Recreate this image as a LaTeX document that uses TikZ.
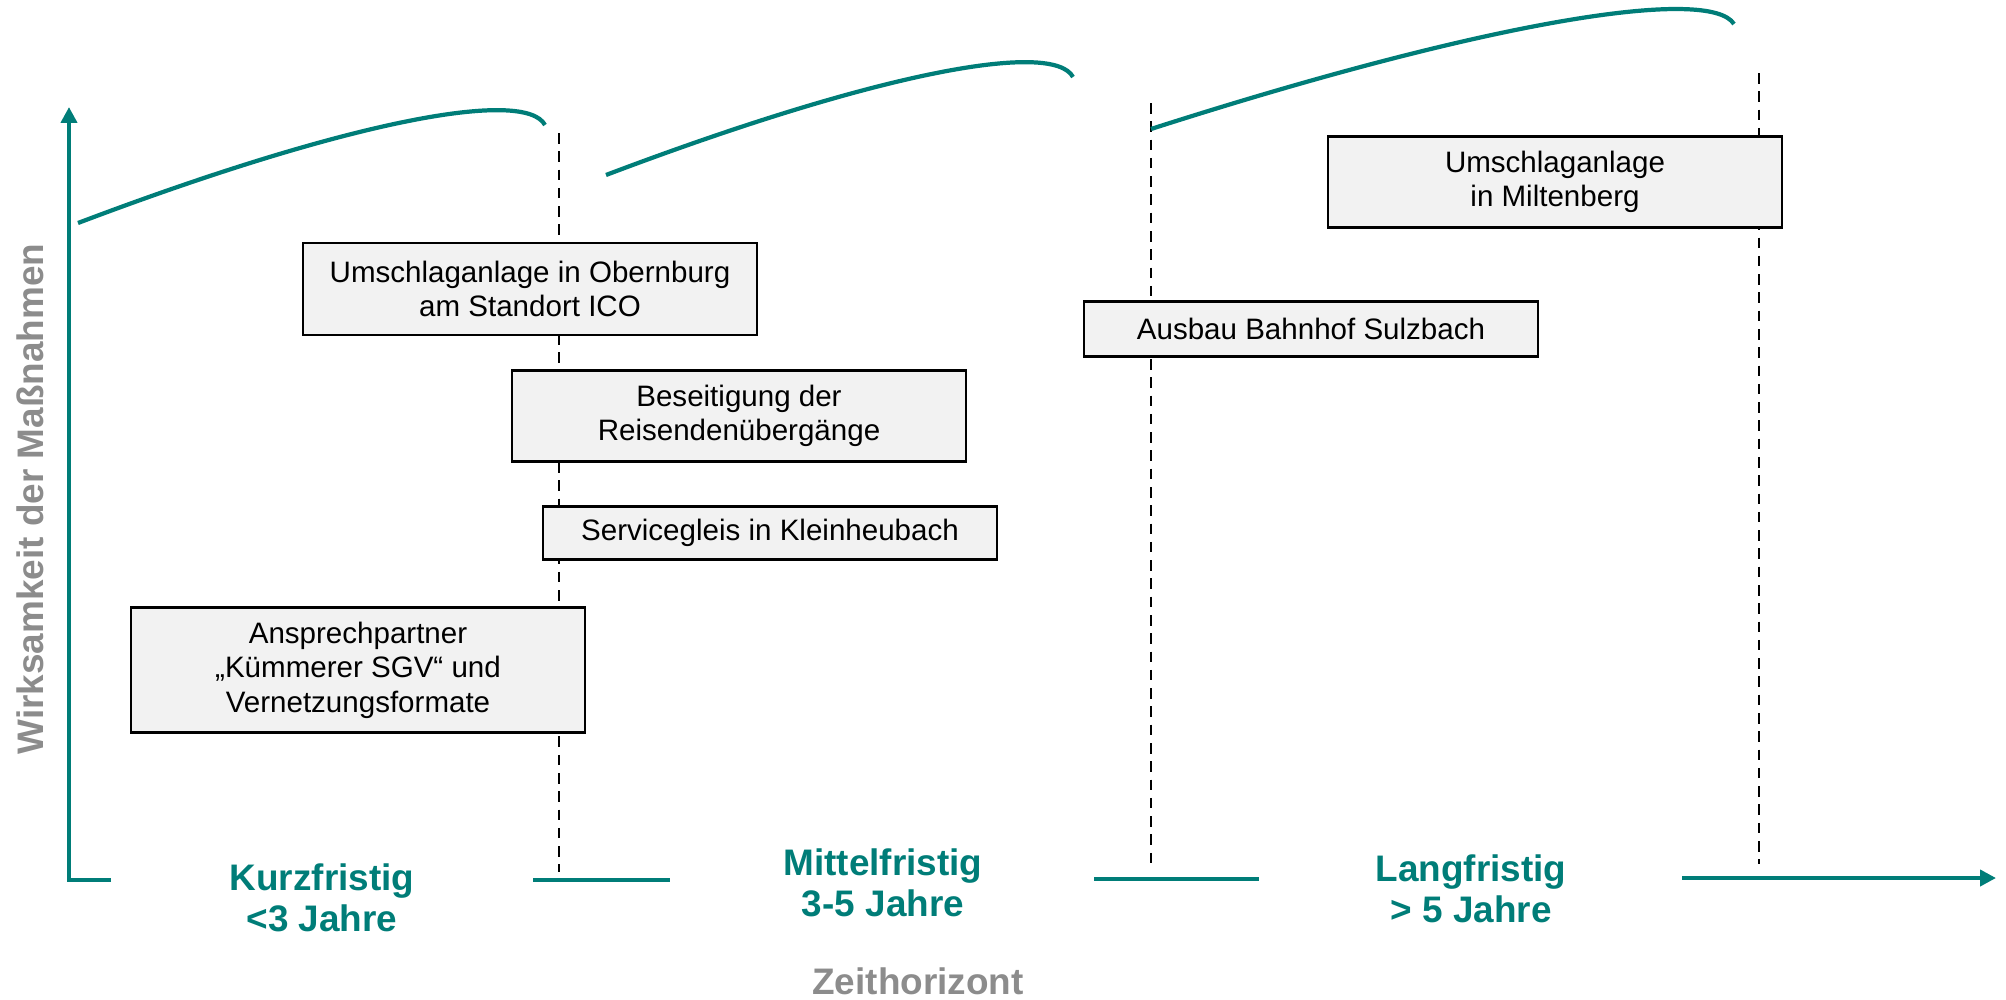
\documentclass[tikz,border=0pt]{standalone}
\usepackage{fontspec}
\setmainfont{Liberation Sans}
\usetikzlibrary{arrows.meta}
\definecolor{axisteal}{RGB}{0,125,120}
\definecolor{labelgray}{RGB}{140,140,140}
\definecolor{boxfill}{RGB}{242,242,242}

\begin{document}
\begin{tikzpicture}[
    x=0.01cm, y=-0.01cm,
    font=\fontsize{8.4}{9.8}\selectfont,
    measure/.style={draw=black, line width=0.6pt, fill=boxfill,
                    minimum width=4.53cm, align=center, inner sep=0pt},
    phase/.style={text=axisteal, align=center,
                  font=\fontsize{10.5}{11.7}\selectfont\bfseries},
    axislabel/.style={text=labelgray, anchor=base, inner sep=0pt,
                      font=\fontsize{10.5}{12}\selectfont\bfseries},
    axis/.style={draw=axisteal, line width=1.2pt},
    trend/.style={draw=axisteal, line width=1.2pt},
    border/.style={draw=black, line width=0.6pt, dash pattern=on 3pt off 2.2pt},
    tip/.style={-{Triangle[length=4.5pt, width=4.5pt]}}
]
\useasboundingbox (0,0) rectangle (2006,1000);

% phase borders
\coordinate (b1top) at (559,133);
\coordinate (b1bot) at (559,872);
\coordinate (b2top) at (1151,103);
\coordinate (b2bot) at (1151,870);
\coordinate (b3top) at (1759,73);
\coordinate (b3bot) at (1759,864);
\draw[border] (b1top) -- (b1bot);
\draw[border] (b2top) -- (b2bot);
\draw[border] (b3top) -- (b3bot);

% axes
\coordinate (origin) at (69,880);
\coordinate (ytop) at (69,107);
\coordinate (xa) at (111,880);
\coordinate (xb) at (533,880);
\coordinate (xc) at (670,880);
\coordinate (xd) at (1094,879);
\coordinate (xe) at (1259,879);
\coordinate (xf) at (1682,878);
\coordinate (xend) at (1996,878);
\draw[axis, tip] (xa) -- (origin) -- (ytop);
\draw[axis] (xb) -- (xc);
\draw[axis] (xd) -- (xe);
\draw[axis, tip] (xf) -- (xend);

% effect curves
\coordinate (c1s) at (78,223);
\coordinate (c1e) at (545,125);
\coordinate (c2s) at (606,175);
\coordinate (c2e) at (1073,77);
\coordinate (c3s) at (1151,129);
\coordinate (c3e) at (1734,24);
\draw[trend] (c1s) .. controls (350,120) and (525,88) .. (c1e);
\draw[trend] (c2s) .. controls (878,72) and (1053,40) .. (c2e);
\draw[trend] (c3s) .. controls (1491,20) and (1710,-14) .. (c3e);

% measures
\node[measure, minimum height=0.92cm] (obernburg) at (530,289)
    {Umschlaganlage in Obernburg\\am Standort ICO};
\node[measure, minimum height=0.91cm] (reisende) at (739,416)
    {Beseitigung der\\Reisendenübergänge};
\node[measure, minimum height=0.53cm] (servicegleis) at (770,533)
    {Servicegleis in Kleinheubach};
\node[measure, minimum height=1.25cm] (kuemmerer) at (358,670)
    {Ansprechpartner\\„Kümmerer SGV“ und\\Vernetzungsformate};
\node[measure, minimum height=0.55cm] (sulzbach) at (1311,329)
    {Ausbau Bahnhof Sulzbach};
\node[measure, minimum height=0.91cm] (miltenberg) at (1555,182)
    {Umschlaganlage\\in Miltenberg};

% phases
\node[phase] (kurz) at (322,898) {Kurzfristig\\<3 Jahre};
\node[phase] (mittel) at (883,883) {Mittelfristig\\3-5 Jahre};
\node[phase] (lang) at (1471,889) {Langfristig\\> 5 Jahre};

\node[axislabel] (xlabel) at (918,994) {Zeithorizont};
\node[axislabel, rotate=90] (ylabel) at (43,499) {Wirksamkeit der Maßnahmen};
\end{tikzpicture}
\end{document}
